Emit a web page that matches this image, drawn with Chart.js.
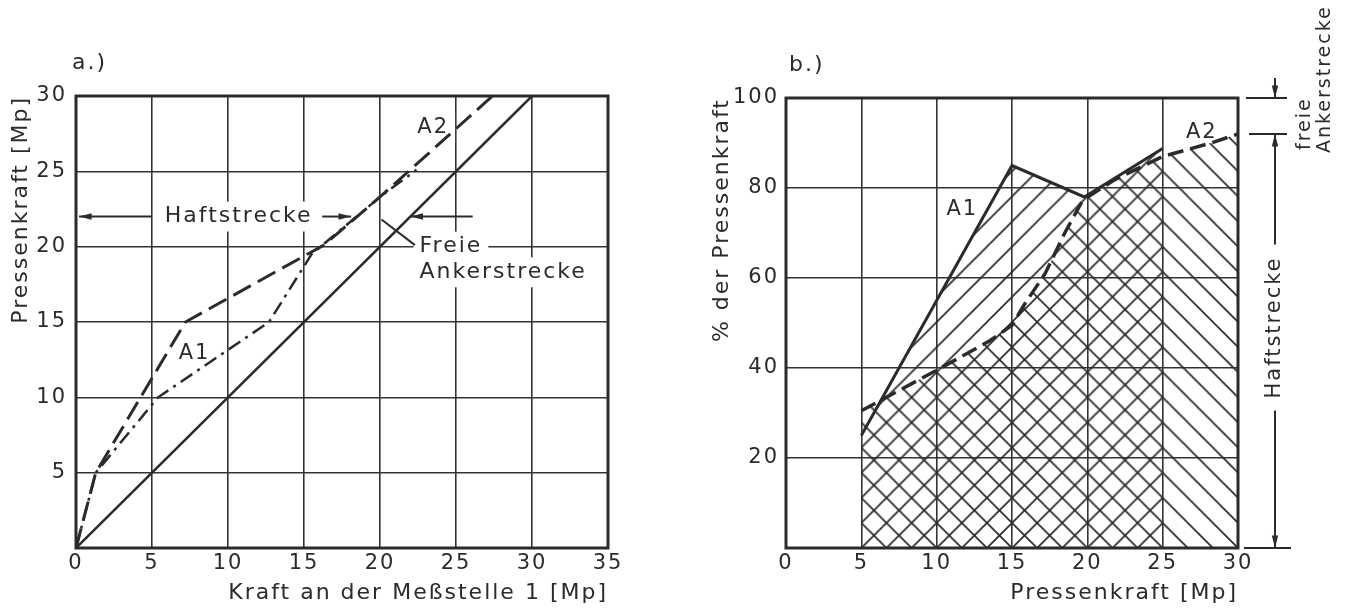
<!DOCTYPE html>
<html>
<head>
<meta charset="utf-8">
<script src="https://cdn.jsdelivr.net/npm/chart.js@4/dist/chart.umd.min.js"></script>
<style>
  html, body { margin: 0; padding: 0; background: #fff; }
  .panel { position: absolute; top: 0; }
  #chartA { left: 0; }
  #chartB { left: 660px; }
</style>
</head>
<body>
<canvas id="chartA" class="panel" width="660" height="614"></canvas>
<canvas id="chartB" class="panel" width="691" height="614"></canvas>
<script>
// ---- a.) Pressenkraft über Kraft an der Meßstelle 1
const aXTicks = [0, 5, 10, 15, 20, 25, 30, 35]
const aYTicks = [0, 5, 10, 15, 20, 25, 30]
const aXTitle = 'Kraft an der Meßstelle 1 [Mp]'
const aYTitle = 'Pressenkraft [Mp]'

const aSolidX = [0, 30]
const aSolidY = [0, 30]
const aDashX = [0, 1.3, 7.2, 15.4, 16.3, 20, 27.4]
const aDashY = [0, 5, 15, 19.6, 20.1, 23.3, 30]
const aDotX = [0, 1.3, 5.4, 12.7, 15.5, 20, 22.4]
const aDotY = [0, 5, 10, 15, 19.5, 23.3, 25.1]

// ---- b.) % der Pressenkraft über Pressenkraft
const bXTicks = [0, 5, 10, 15, 20, 25, 30]
const bYTicks = [0, 20, 40, 60, 80, 100]
const bXTitle = 'Pressenkraft [Mp]'
const bYTitle = '% der Pressenkraft'

const bA1X = [5, 15, 19.8, 25]
const bA1Y = [25, 85, 78, 88.8]
const bA2X = [5, 7.5, 10, 13.5, 15, 15.8, 17.2, 18.5, 19.7, 21.8, 25, 28.2, 30]
const bA2Y = [30.5, 35, 39.5, 46, 49.5, 54, 61, 70, 77.3, 81.8, 87, 90, 92]

const ink = '#2b2b2b'
const family = '"DejaVu Sans", sans-serif'

const toPts = (xs, ys) => xs.map((x, i) => ({ x, y: ys[i] }))

function axis(ticks, o) {
    return {
        type: 'linear',
        min: ticks[0],
        max: ticks[ticks.length - 1],
        afterBuildTicks: s => { s.ticks = ticks.map(v => ({ value: v })) },
        afterFit: s => {
            if (o.width) s.width = o.width
            if (o.height) s.height = o.height
        },
        grid: { color: '#333', lineWidth: 1.6, drawTicks: false },
        border: { display: false },
        ticks: {
            color: ink,
            padding: o.pad,
            autoSkip: false,
            maxRotation: 0,
            font: { family, size: 21 },
            callback: v => (o.hideZero && v === 0) ? '' : v
        },
        title: {
            display: true,
            text: o.title,
            align: 'end',
            color: ink,
            font: { family, size: 22 },
            padding: o.titlePad
        }
    }
}

function text(ctx, str, x, y, o = {}) {
    ctx.save()
    ctx.font = `${o.size || 22}px ${family}`
    ctx.translate(x, y)
    if (o.rot) ctx.rotate(o.rot)
    ctx.textAlign = o.align || 'center'
    ctx.textBaseline = 'middle'
    if (o.bg) {
        const w = ctx.measureText(str).width
        const x0 = o.align === 'left' ? 0 : -w / 2
        ctx.fillStyle = '#fff'
        ctx.fillRect(x0 - 6, -15, w + 12, 30)
    }
    ctx.fillStyle = ink
    ctx.fillText(str, 0, 0)
    ctx.restore()
}

function line(ctx, p1, p2, w = 2) {
    ctx.beginPath()
    ctx.moveTo(p1[0], p1[1])
    ctx.lineTo(p2[0], p2[1])
    ctx.lineWidth = w
    ctx.strokeStyle = ink
    ctx.stroke()
}

// line from p1 to p2 with a filled head at p2
function arrow(ctx, p1, p2) {
    line(ctx, p1, p2)
    const ang = Math.atan2(p2[1] - p1[1], p2[0] - p1[0])
    const len = 13
    ctx.beginPath()
    ctx.moveTo(p2[0], p2[1])
    ctx.lineTo(p2[0] - len * Math.cos(ang - 0.25), p2[1] - len * Math.sin(ang - 0.25))
    ctx.lineTo(p2[0] - len * Math.cos(ang + 0.25), p2[1] - len * Math.sin(ang + 0.25))
    ctx.closePath()
    ctx.fillStyle = ink
    ctx.fill()
}

function notes(draw, patterns = []) {
    return {
        id: 'notes',
        beforeUpdate(chart) { chart.ctx.letterSpacing = '2px' },
        beforeDraw(chart) {
            chart.ctx.letterSpacing = '2px'
            // line the hatching up with the grid corners
            const a = chart.chartArea
            const x = chart.scales.x
            const cell = x.getPixelForValue(5) - x.getPixelForValue(0)
            patterns.forEach(p => p.setTransform(new DOMMatrix().translate(a.left, a.bottom).scale(cell / 3 / 25)))
        },
        beforeDatasetsDraw(chart) {
            const { ctx, chartArea: a, scales } = chart
            const P = (x, y) => [scales.x.getPixelForValue(x), scales.y.getPixelForValue(y)]
            ctx.save()
            draw(ctx, P, a)
            ctx.lineWidth = 3
            ctx.strokeStyle = ink
            ctx.strokeRect(a.left, a.top, a.right - a.left, a.bottom - a.top)
            ctx.restore()
        }
    }
}

function hatch(ctx, dir) {
    const s = 25
    const tile = document.createElement('canvas')
    tile.width = s
    tile.height = s
    const g = tile.getContext('2d')
    g.strokeStyle = ink
    g.lineWidth = 1.7
    g.beginPath()
    if (dir === '/') {
        g.moveTo(-2, s + 2); g.lineTo(s + 2, -2)
        g.moveTo(-2, 2); g.lineTo(2, -2)
        g.moveTo(s - 2, s + 2); g.lineTo(s + 2, s - 2)
    } else {
        g.moveTo(-2, -2); g.lineTo(s + 2, s + 2)
        g.moveTo(s - 2, -2); g.lineTo(s + 2, 2)
        g.moveTo(-2, s - 2); g.lineTo(2, s + 2)
    }
    g.stroke()
    return ctx.createPattern(tile, 'repeat')
}

const baseOptions = (padding, scales) => ({
    responsive: false,
    animation: false,
    layout: { padding },
    elements: {
        line: { borderColor: ink, tension: 0, fill: false, borderCapStyle: 'butt', borderJoinStyle: 'miter' },
        point: { radius: 0 }
    },
    plugins: {
        legend: { display: false },
        tooltip: { enabled: false },
        filler: { drawTime: 'beforeDatasetsDraw' }
    },
    scales
})

// ---------- chart a
new Chart(document.getElementById('chartA'), {
    type: 'line',
    data: {
        datasets: [
            { data: toPts(aSolidX, aSolidY), borderWidth: 2.5 },
            { data: toPts(aDashX, aDashY), borderWidth: 3, borderDash: [20, 8] },
            { data: toPts(aDotX, aDotY), borderWidth: 2.5, borderDash: [14, 6, 3, 6] }
        ]
    },
    options: baseOptions({ left: 8, right: 52, top: 96, bottom: 0 }, {
        x: axis(aXTicks, { height: 66, pad: 3, title: aXTitle, titlePad: { bottom: 8 } }),
        y: axis(aYTicks, { width: 68, pad: 9, hideZero: true, title: aYTitle, titlePad: { top: 0 } })
    }),
    plugins: [notes((ctx, P, a) => {
        text(ctx, 'a.)', a.left - 4, a.top - 33, { align: 'left' })
        text(ctx, 'Haftstrecke', ...P(10.7, 22), { bg: true })
        arrow(ctx, P(5, 22), P(0.2, 22))
        arrow(ctx, P(16.2, 22), P(18.1, 22))
        arrow(ctx, P(26.1, 22), P(22, 22))
        text(ctx, 'Freie', ...P(22.6, 20), { align: 'left', bg: true })
        text(ctx, 'Ankerstrecke', ...P(22.6, 18.3), { align: 'left', bg: true })
        line(ctx, P(20.1, 21.8), P(22.3, 20.1))
        text(ctx, 'A1', ...P(7.8, 12.9), { bg: true, size: 21 })
        text(ctx, 'A2', ...P(23.5, 27.9), { bg: true, size: 21 })
    })]
})

// ---------- chart b
const ctxB = document.getElementById('chartB').getContext('2d')
const hatchA1 = hatch(ctxB, '/')
const hatchA2 = hatch(ctxB, '\\')

new Chart(ctxB, {
    type: 'line',
    data: {
        datasets: [
            { data: toPts(bA1X, bA1Y), borderWidth: 3, fill: 'origin', backgroundColor: hatchA1 },
            { data: toPts(bA2X, bA2Y), borderWidth: 3.5, borderDash: [16, 7], fill: 'origin', backgroundColor: hatchA2 }
        ]
    },
    options: baseOptions({ left: 49, right: 113, top: 98, bottom: 0 }, {
        x: axis(bXTicks, { height: 66, pad: 3, title: bXTitle, titlePad: { bottom: 8 } }),
        y: axis(bYTicks, { width: 77, pad: 7, hideZero: true, title: bYTitle, titlePad: { top: 0 } })
    }),
    plugins: [notes((ctx, P, a) => {
        text(ctx, 'b.)', a.left + 3, a.top - 33, { align: 'left' })
        text(ctx, 'A1', ...P(11.7, 75.3), { size: 21 })
        text(ctx, 'A2', ...P(27.6, 92.4), { size: 21 })

        const R = a.right
        const y100 = P(0, 100)[1], y92 = P(0, 92)[1], y0 = P(0, 0)[1]
        line(ctx, [R + 8, y100], [R + 49, y100])
        line(ctx, [R + 11, y92], [R + 49, y92])
        line(ctx, [R + 6, y0], [R + 53, y0])

        const ax = R + 37
        arrow(ctx, [ax, y100 - 20], [ax, y100])
        const ym = P(0, 49)[1]
        ctx.font = `21px ${family}`
        const half = ctx.measureText('Haftstrecke').width / 2 + 12
        arrow(ctx, [ax, ym - half], [ax, y92])
        arrow(ctx, [ax, ym + half], [ax, y0])
        text(ctx, 'Haftstrecke', ax, ym, { rot: -Math.PI / 2, size: 21 })
        text(ctx, 'freie', R + 67, y92 + 16, { rot: -Math.PI / 2, align: 'left', size: 19 })
        text(ctx, 'Ankerstrecke', R + 87, y92 + 19, { rot: -Math.PI / 2, align: 'left', size: 19 })
    }, [hatchA1, hatchA2])]
})
</script>
</body>
</html>
